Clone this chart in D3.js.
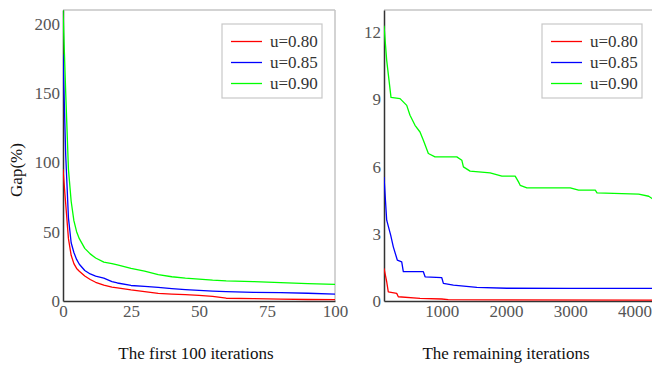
<!DOCTYPE html>
<html><head><meta charset="utf-8">
<script src="https://cdn.jsdelivr.net/npm/d3@7"></script>
<style>
body{margin:0;background:#fff}
#c text{font-family:"Liberation Serif","Tinos","Times New Roman";}
</style>
</head><body>
<svg id="c" width="652" height="367" font-family="Liberation Serif"></svg>
<script>
// ---- data ----
const seriesNames = ["u=0.80", "u=0.85", "u=0.90"];
const seriesColors = ["#ff0000", "#0000ff", "#00ff00"];

const iterFirst = [0,1,2,3,4,5,6,8,10,12,15,18,20,25,30,35,40,45,50,55,60,70,80,90,100];
const firstU80 = [95,70,45,33,27,23.5,21.5,18,15.5,13.5,11.5,10,9.5,8,6.8,5.5,5,4.6,4,3.3,2,1.7,1.3,1.1,1];
const firstU85 = [178,105,60,42,35,30,26.5,22,19.5,18,16.5,14,13,11.2,10.5,9.8,9,8.2,7.6,7.1,6.7,6.2,6,5.6,5];
const firstU90 = [210,150,95,72,58,50,45,38,34,31,28,27,26,23.5,21.5,19,17.5,16.5,15.8,15,14.5,14,13.2,12.6,12];

const iterRestG = [100,142,209,350,454,505,583,661,713,791,895,1234,1312,1337,1441,1753,1936,2143,2195,2221,2326,3001,3131,3391,3418,4067,4223,4276,4300];
const restU90  = [12.3,10.75,9.1,9.04,8.74,8.3,7.85,7.55,7.18,6.59,6.44,6.44,6.29,5.99,5.8,5.72,5.58,5.58,5.32,5.17,5.05,5.05,4.95,4.95,4.83,4.77,4.68,4.58,4.5];
const iterRestB = [100,142,204,245,307,376,401,713,740,1000,1025,1181,1546,2014,3000,4300];
const restU85  = [5.54,3.61,2.94,2.42,1.83,1.75,1.31,1.31,1.08,1.04,0.79,0.71,0.61,0.57,0.56,0.56];
const iterRestR = [100,142,167,298,323,661,1000,1100,2000,4300];
const restU80  = [1.46,0.86,0.41,0.34,0.19,0.12,0.09,0.06,0.05,0.04];

const firstXTicks = [0,25,50,75,100];
const firstYTicks = [0,50,100,150,200];
const restXTicks = [1000,2000,3000,4000];
const restYTicks = [0,3,6,9,12];

// ---- drawing ----
const svg = d3.select("#c");

function panel(opt){
  const {xDom, yDom, xr, yr, xTicks, yTicks, series, legendX, id, title, titleX} = opt;
  const x = d3.scaleLinear().domain(xDom).range(xr);
  const y = d3.scaleLinear().domain(yDom).range(yr);
  const g = svg.append("g");
  g.append("clipPath").attr("id", id).append("rect")
    .attr("x", xr[0]).attr("y", yr[1]).attr("width", xr[1]-xr[0]).attr("height", yr[0]-yr[1]);
  g.append("line").attr("x1", xr[0]).attr("x2", xr[1]).attr("y1", yr[1]).attr("y2", yr[1])
    .attr("stroke", "#c4c4c4").attr("stroke-width", 1.5);
  g.append("line").attr("x1", xr[1]).attr("x2", xr[1]).attr("y1", yr[1]).attr("y2", yr[0])
    .attr("stroke", "#c4c4c4").attr("stroke-width", 1.5);
  const xa = g.append("g").attr("transform", `translate(0,${yr[0]})`)
    .call(d3.axisBottom(x).tickValues(xTicks).tickSize(0).tickPadding(3).tickFormat(d3.format("d")));
  const ya = g.append("g").attr("transform", `translate(${xr[0]},0)`)
    .call(d3.axisLeft(y).tickValues(yTicks).tickSize(0).tickPadding(3).tickFormat(d3.format("d")));
  [xa, ya].forEach(a => {
    a.attr("font-family", null).attr("font-size", 17);
    a.select(".domain").attr("stroke", "#333").attr("stroke-width", 1.5);
    a.selectAll("text").attr("fill", "#555");
  });
  xa.selectAll("text").attr("dy", "0.78em");
  const lg = g.append("g").attr("clip-path", `url(#${id})`);
  series.forEach((s, i) => {
    const line = d3.line().x((d, k) => x(s.xs[k])).y(d => y(d));
    lg.append("path").datum(s.vals).attr("d", line).attr("fill", "none")
      .attr("stroke", seriesColors[i]).attr("stroke-width", 1.3).attr("stroke-linejoin", "round");
  });
  const leg = g.append("g");
  leg.append("rect").attr("x", legendX).attr("y", 24).attr("width", 100).attr("height", 74)
    .attr("fill", "#fff").attr("stroke", "#c8c8c8").attr("stroke-width", 1.2);
  seriesNames.forEach((n, i) => {
    const yy = 41.5 + i*21;
    leg.append("line").attr("x1", legendX+9).attr("x2", legendX+40).attr("y1", yy).attr("y2", yy)
      .attr("stroke", seriesColors[i]).attr("stroke-width", 1.3);
    leg.append("text").attr("x", legendX+48).attr("y", yy).attr("dy", "0.34em")
      .attr("font-size", 17).attr("fill", "#333").text(n);
  });
  svg.append("text").attr("x", titleX).attr("y", 359).attr("text-anchor", "middle")
    .attr("font-size", 17).attr("fill", "#111").text(title);
}

panel({
  id: "clipA", xDom: [0,100], yDom: [0,210], xr: [63,335], yr: [301,10],
  xTicks: firstXTicks, yTicks: firstYTicks, legendX: 222,
  series: [{xs: iterFirst, vals: firstU80}, {xs: iterFirst, vals: firstU85}, {xs: iterFirst, vals: firstU90}],
  title: "The first 100 iterations", titleX: 196
});
panel({
  id: "clipB", xDom: [100,4290], yDom: [0,13], xr: [384,653], yr: [301,10],
  xTicks: restXTicks, yTicks: restYTicks, legendX: 542,
  series: [{xs: iterRestR, vals: restU80}, {xs: iterRestB, vals: restU85}, {xs: iterRestG, vals: restU90}],
  title: "The remaining iterations", titleX: 506
});

svg.append("text").attr("transform", "translate(22,170) rotate(-90)").attr("text-anchor", "middle")
  .attr("font-size", 17).attr("fill", "#111").text("Gap(%)");
</script>
</body></html>
